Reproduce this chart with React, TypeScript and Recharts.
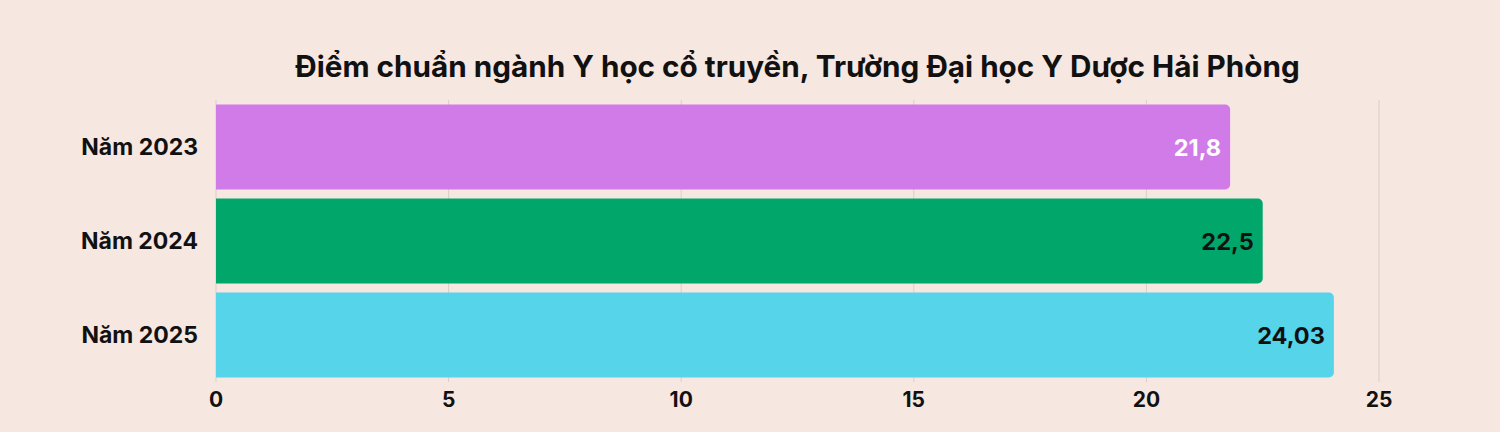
import { BarChart, Bar, XAxis, YAxis, CartesianGrid, Cell, LabelList } from "recharts";

const years = ["Năm 2023", "Năm 2024", "Năm 2025"];
const scores = [21.8, 22.5, 24.03];
const barColors = ["#d17be9", "#00a66a", "#56d4ea"];
const labelColors = ["#ffffff", "#111111", "#111111"];
const xTicks = [0, 5, 10, 15, 20, 25];

const BG = "#f6e7e1";
const FONT = "Inter, 'Noto Sans', sans-serif";

const data = years.map((name, i) => ({ name, score: scores[i], idx: i }));

if (typeof document !== "undefined") document.body.style.margin = "0";

const renderValue = (props: any) => {
  const { x, y, width, height, value, index } = props;
  return (
    <text
      x={x + width - 9}
      y={y + height / 2}
      textAnchor="end"
      dominantBaseline="central"
      fontFamily={FONT}
      fontWeight={700}
      fontSize={23.5}
      fill={labelColors[index]}
    >
      {String(value).replace(".", ",")}
    </text>
  );
};

export default function App() {
  return (
    <div style={{ position: "relative", width: 1500, height: 432, background: BG, fontFamily: FONT }}>
      <div
        style={{
          position: "absolute",
          left: 216,
          width: 1163,
          top: 46,
          textAlign: "center",
          fontSize: 29.7,
          fontWeight: 700,
          color: "#111",
          lineHeight: "40px",
        }}
      >
        Điểm chuẩn ngành Y học cổ truyền, Trường Đại học Y Dược Hải Phòng
      </div>
      <BarChart
        width={1500}
        height={432}
        data={data}
        layout="vertical"
        margin={{ top: 100, right: 121, bottom: 0, left: 0 }}
        barCategoryGap={4.5}
      >
        <CartesianGrid horizontal={false} stroke="#d9cfcb" />
        <XAxis
          type="number"
          domain={[0, 25]}
          ticks={xTicks}
          axisLine={false}
          tickLine={false}
          height={50}
          tick={{ fontSize: 21, fontWeight: 700, fill: "#111", fontFamily: FONT }}
          tickMargin={4}
        />
        <YAxis
          type="category"
          dataKey="name"
          width={216}
          axisLine={false}
          tickLine={false}
          tickMargin={12}
          tick={{ fontSize: 23, fontWeight: 700, fill: "#111", fontFamily: FONT }}
        />
        <Bar dataKey="score" radius={[0, 5, 5, 0]} isAnimationActive={false}>
          {data.map((d) => (
            <Cell key={d.name} fill={barColors[d.idx]} />
          ))}
          <LabelList dataKey="score" content={renderValue} />
        </Bar>
      </BarChart>
    </div>
  );
}
